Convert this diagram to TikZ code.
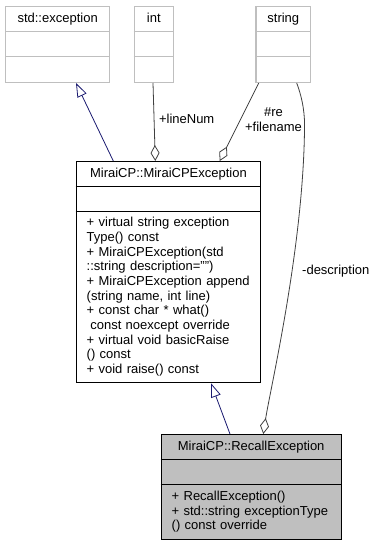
\documentclass[tikz,border=0pt]{standalone}
\usepackage{fontspec}
\setmainfont{Liberation Sans}
\usetikzlibrary{positioning,arrows.meta,calc}

\definecolor{edgeblue}{HTML}{191970}
\definecolor{edgegray}{HTML}{404040}
\definecolor{boxgray}{HTML}{BFBFBF}

\begin{document}
\begin{tikzpicture}[x=1pt, y=1pt,
        font=\fontsize{13}{14.67}\selectfont,
        classbox/.style={draw=black, line width=0.9pt, fill=white, anchor=north west, inner sep=0pt},
        extbox/.style={classbox, draw=boxgray, line width=1.3pt},
        focusbox/.style={classbox, fill=boxgray},
        boxtitle/.style={anchor=base, inner sep=0pt},
        members/.style={anchor=base west, inner sep=0pt, align=left, text width=200pt},
        inherit/.style={draw=edgeblue, line width=0.8pt, -{Triangle[open, length=14pt, width=10pt]}},
        aggregate/.style={draw=edgegray, line width=0.8pt, -{Diamond[open, length=16pt, width=9pt]}},
        edgelabel/.style={anchor=base, inner sep=0pt, align=center}
    ]
    \useasboundingbox[fill=white] (0,0) rectangle (377,-545);

    % Nodes
    \node[extbox, minimum width=104, minimum height=76] (exc) at (5,-5.7) {};
    \node[extbox, minimum width=39, minimum height=76] (intc) at (133.7,-5.7) {};
    \node[extbox, minimum width=54.7, minimum height=76] (strc) at (255.3,-5.7) {};

    \node[classbox, minimum width=184.6, minimum height=221.3] (mcp) at (75.7,-161) {};
    \node[focusbox, minimum width=180, minimum height=105] (rec) at (160.7,-434) {};

    % compartments
    \foreach \c in {exc,intc,strc} {
        \draw[boxgray, line width=1.3pt] ([yshift=-26]\c.north west) -- ([yshift=-26]\c.north east);
        \draw[boxgray, line width=1.3pt] ([yshift=-51]\c.north west) -- ([yshift=-51]\c.north east);
    }
    \draw[line width=0.9pt] ([yshift=-25]mcp.north west) -- ([yshift=-25]mcp.north east);
    \draw[line width=0.9pt] ([yshift=-50]mcp.north west) -- ([yshift=-50]mcp.north east);
    \draw[line width=0.9pt] ([yshift=-25.3]rec.north west) -- ([yshift=-25.3]rec.north east);
    \draw[line width=0.9pt] ([yshift=-50.7]rec.north west) -- ([yshift=-50.7]rec.north east);

    % Titles
    \node[boxtitle] (exct) at ([yshift=-16.8]exc.north) {std::exception};
    \node[boxtitle] (intt) at ([yshift=-16.8]intc.north) {int};
    \node[boxtitle] (strt) at ([yshift=-16.8]strc.north) {string};
    \node[boxtitle] (mcpt) at ([yshift=-16.8]mcp.north) {MiraiCP::MiraiCPException};
    \node[boxtitle] (rect) at ([yshift=-16.3]rec.north) {MiraiCP::RecallException};

    % Members
    \node[members] (mcpm) at ([xshift=10.8,yshift=-65.8]mcp.north west) {%
        + virtual string exception\\
        Type() const\\
        + MiraiCPException(std\\
        ::string description="")\\
        + MiraiCPException append\\
        (string name, int line)\\
        + const char * what()\\
        \hspace*{3.6pt}const noexcept override\\
        + virtual void basicRaise\\
        () const\\
        + void raise() const};
    \node[members] (recm) at ([xshift=10.8,yshift=-66.5]rec.north west) {%
        + RecallException()\\
        + std::string exceptionType\\
        () const override};

    % Edges
    \draw[inherit] ([xshift=37.6]mcp.north west) -- ([xshift=71]exc.south west);
    \draw[inherit] ([xshift=69.3]rec.north west) -- ([xshift=135.3]mcp.south west);

    \draw[aggregate] ([xshift=19.3]intc.south west) -- ([xshift=79.6]mcp.north west);
    \draw[aggregate] ([xshift=3.4]strc.south west) -- ([xshift=144]mcp.north west);
    \draw[aggregate] ([xshift=41.4]strc.south west)
        .. controls (303,-100) and (305,-115) .. (304.5,-130)
        .. controls (303,-250) and (270,-390) .. ([xshift=102.6]rec.north west);

    % Edge labels (base is the last line)
    \node[edgelabel] (linenum) at (186.7,-124) {+lineNum};
    \node[edgelabel] (refile) at (273.5,-131.5) {\#re\\+filename};
    \node[edgelabel] (desc) at (335.8,-274) {-description};
\end{tikzpicture}
\end{document}
